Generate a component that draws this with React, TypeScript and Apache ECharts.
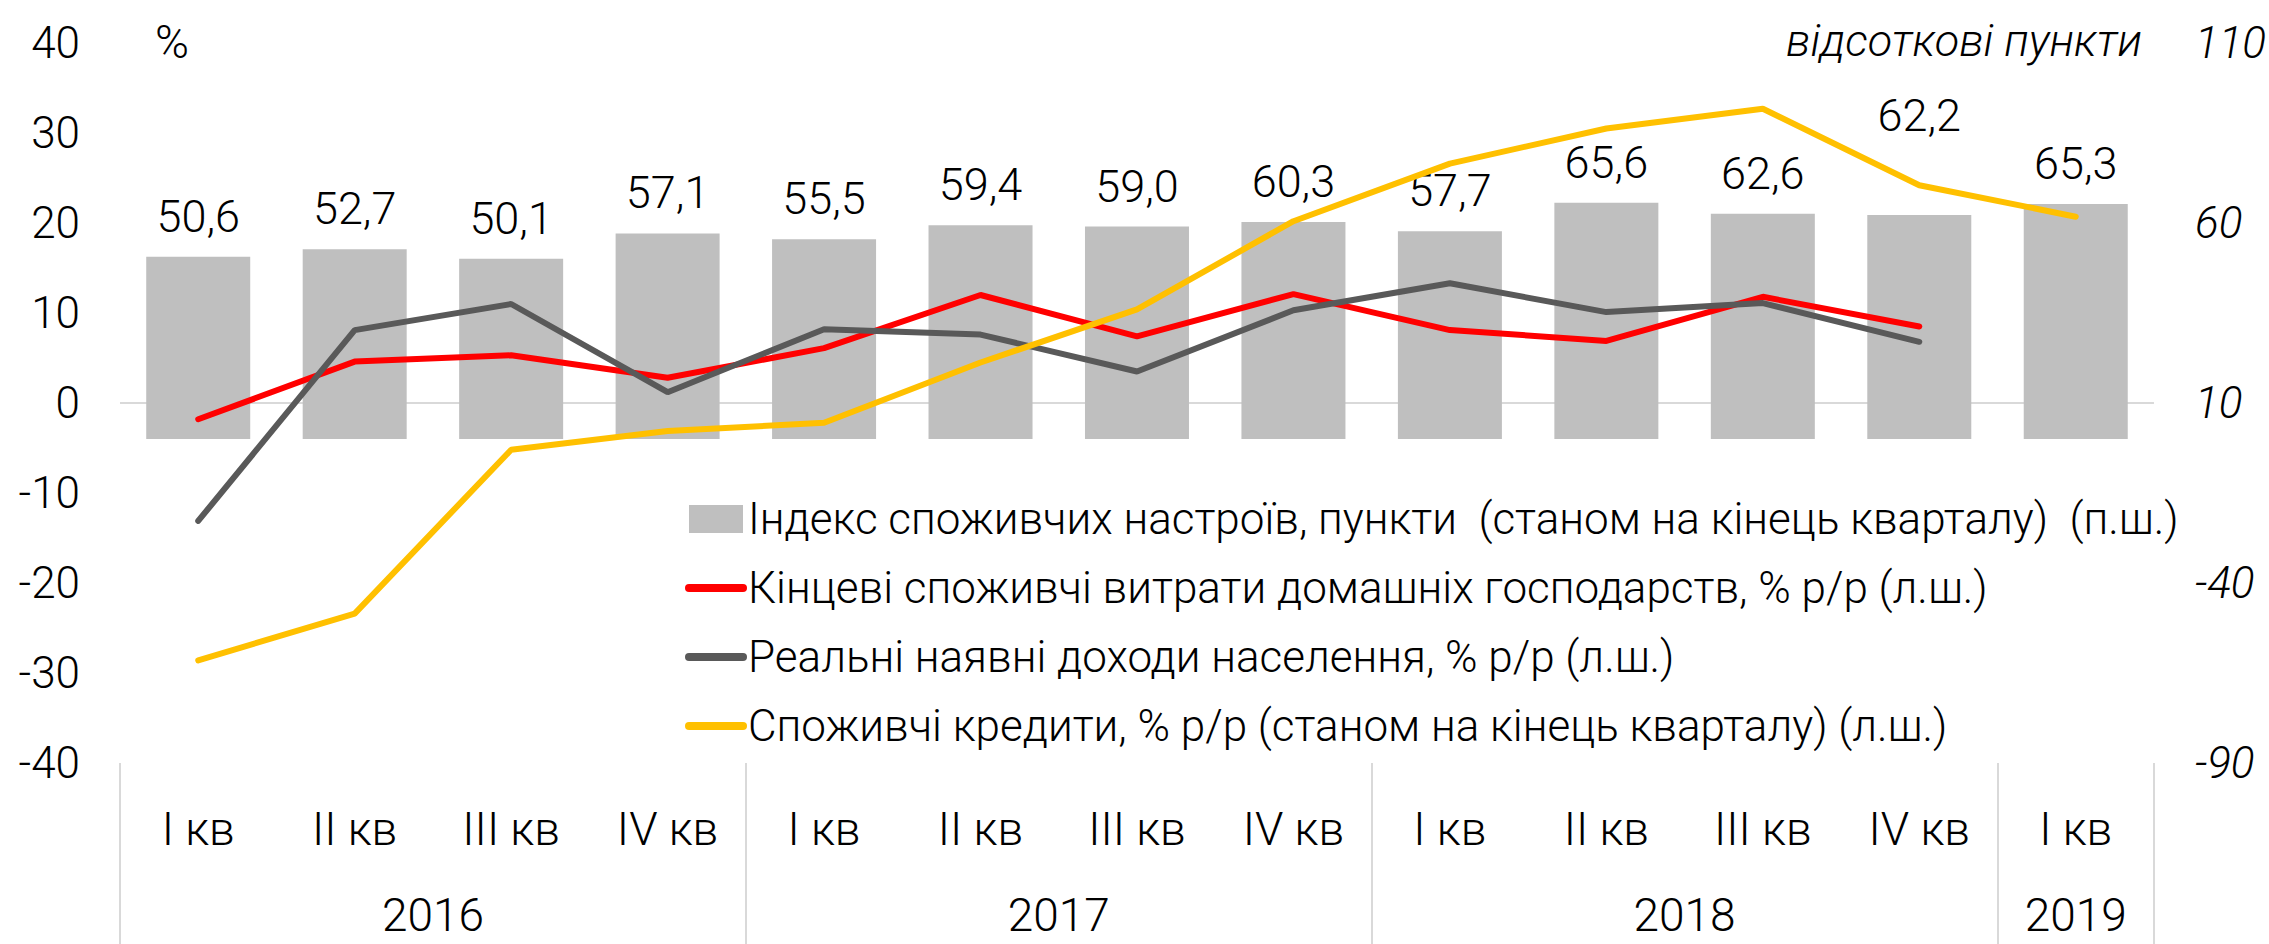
import React, { useEffect, useRef } from 'react';
import * as echarts from 'echarts';

// ---- data ----
const quarterLabels = ['I кв', 'II кв', 'III кв', 'IV кв', 'I кв', 'II кв', 'III кв', 'IV кв', 'I кв', 'II кв', 'III кв', 'IV кв', 'I кв'];
const yearLabels = ['2016', '2017', '2018', '2019'];
const yearQuarterCounts = [4, 4, 4, 1];
const sentimentIndex = [50.6, 52.7, 50.1, 57.1, 55.5, 59.4, 59.0, 60.3, 57.7, 65.6, 62.6, 62.2, 65.3];
const householdSpending = [-1.8, 4.6, 5.3, 2.8, 6.1, 12.0, 7.4, 12.1, 8.1, 6.9, 11.8, 8.5];
const realIncome = [-13.1, 8.1, 11.0, 1.2, 8.2, 7.6, 3.5, 10.3, 13.3, 10.1, 11.1, 6.8];
const consumerLoans = [-28.6, -23.4, -5.2, -3.1, -2.2, 4.5, 10.4, 20.2, 26.6, 30.5, 32.7, 24.2, 20.7];
const leftTickValues = [-40, -30, -20, -10, 0, 10, 20, 30, 40];
const rightTickValues = [-90, -40, 10, 60, 110];
const seriesNames = [
  'Індекс споживчих настроїв, пункти  (станом на кінець кварталу)  (п.ш.)',
  'Кінцеві споживчі витрати домашніх господарств, % р/р (л.ш.)',
  'Реальні наявні доходи населення, % р/р (л.ш.)',
  'Споживчі кредити, % р/р (станом на кінець кварталу) (л.ш.)',
];
const leftUnit = '%';
const rightUnit = 'відсоткові пункти';

const FONT = "Roboto, 'Noto Sans', sans-serif";
const FW = 300;

export default function App() {
  const ref = useRef<HTMLDivElement>(null);
  useEffect(() => {
    document.body.style.margin = '0';
    const chart = echarts.init(ref.current!, null, { renderer: 'svg' });

    const boundaries: number[] = [0];
    const centers: number[] = [];
    let acc = 0;
    yearQuarterCounts.forEach((c) => {
      centers.push(acc + c / 2);
      acc += c;
      boundaries.push(acc);
    });
    const yearAt = (v: number) => {
      const i = centers.findIndex((c) => Math.abs(c - v) < 1e-6);
      return i >= 0 ? yearLabels[i] : '';
    };

    const fmt = (v: number) => v.toFixed(1).replace('.', ',');
    const hideSymbol = { color: 'rgba(0,0,0,0)', borderWidth: 0, opacity: 0 };

    chart.setOption({
      animation: false,
      textStyle: { fontFamily: FONT, fontWeight: FW },
      grid: { left: 120, right: 110, top: 43, bottom: 181 },
      legend: {
        orient: 'vertical',
        left: 680,
        top: 492,
        itemWidth: 54,
        itemHeight: 28,
        itemGap: 25,
        textStyle: { fontFamily: FONT, fontWeight: FW, fontSize: 44, color: '#000' },
        data: [
          { name: seriesNames[0], icon: 'rect' },
          { name: seriesNames[1], itemStyle: hideSymbol, lineStyle: { width: 8, color: '#ff0000' } },
          { name: seriesNames[2], itemStyle: hideSymbol, lineStyle: { width: 8, color: '#595959' } },
          { name: seriesNames[3], itemStyle: hideSymbol, lineStyle: { width: 8, color: '#ffc000' } },
        ],
      },
      xAxis: [
        {
          type: 'category',
          data: quarterLabels,
          position: 'bottom',
          axisLine: { show: false, onZero: false },
          axisTick: { show: false },
          axisLabel: { fontFamily: FONT, fontWeight: FW, fontSize: 46, color: '#000', margin: 43, interval: 0 },
        },
        {
          type: 'value',
          min: 0,
          max: boundaries[boundaries.length - 1],
          position: 'bottom',
          axisLine: { show: false, onZero: false },
          splitLine: { show: false },
          axisTick: {
            show: true,
            customValues: boundaries,
            length: 185,
            lineStyle: { color: '#d9d9d9', width: 2 },
          },
          axisLabel: {
            customValues: centers,
            formatter: (v: number) => yearAt(v),
            fontFamily: FONT,
            fontWeight: FW,
            fontSize: 46,
            color: '#000',
            margin: 129,
          },
        },
      ],
      yAxis: [
        {
          type: 'value',
          min: leftTickValues[0],
          max: leftTickValues[leftTickValues.length - 1],
          interval: 10,
          axisLine: { show: false },
          axisTick: { show: false },
          splitLine: { show: false },
          axisLabel: { fontFamily: FONT, fontWeight: FW, fontSize: 44, color: '#000', margin: 40 },
        },
        {
          type: 'value',
          min: rightTickValues[0],
          max: rightTickValues[rightTickValues.length - 1],
          interval: 50,
          position: 'right',
          axisLine: { show: false },
          axisTick: { show: false },
          splitLine: { show: false },
          axisLabel: {
            customValues: rightTickValues,
            fontFamily: FONT,
            fontWeight: FW,
            fontSize: 44,
            fontStyle: 'italic',
            color: '#000',
            margin: 41,
          },
        },
      ],
      graphic: [
        {
          type: 'text',
          left: 155,
          top: 19,
          style: { text: leftUnit, fontFamily: FONT, fontWeight: FW, fontSize: 46, fill: '#000' },
        },
        {
          type: 'text',
          right: 2269 - 2142,
          top: 18,
          style: { text: rightUnit, fontFamily: FONT, fontWeight: FW, fontSize: 45, fontStyle: 'italic', fill: '#000' },
        },
      ],
      series: [
        {
          name: seriesNames[0],
          type: 'bar',
          yAxisIndex: 1,
          barWidth: 104,
          itemStyle: { color: '#bfbfbf' },
          label: {
            show: true,
            position: 'top',
            distance: 18,
            formatter: (p: any) => fmt(p.value),
            fontFamily: FONT,
            fontWeight: FW,
            fontSize: 45,
            color: '#000',
          },
          data: sentimentIndex.map((v, i) =>
            i === 11 ? { value: v, label: { distance: 77 } } : v
          ),
          z: 2,
        },
        {
          name: seriesNames[1],
          type: 'line',
          yAxisIndex: 0,
          symbol: 'none',
          lineStyle: { color: '#ff0000', width: 6, cap: 'round' },
          itemStyle: { color: '#ff0000' },
          data: householdSpending,
          z: 3,
          markLine: {
            silent: true,
            symbol: ['none', 'none'],
            z: 1,
            label: { show: false },
            lineStyle: { color: '#d9d9d9', type: 'solid', width: 2 },
            data: [{ yAxis: 0 }],
          },
        },
        {
          name: seriesNames[2],
          type: 'line',
          yAxisIndex: 0,
          symbol: 'none',
          lineStyle: { color: '#595959', width: 6, cap: 'round' },
          itemStyle: { color: '#595959' },
          data: realIncome,
          z: 4,
        },
        {
          name: seriesNames[3],
          type: 'line',
          yAxisIndex: 0,
          symbol: 'none',
          lineStyle: { color: '#ffc000', width: 6, cap: 'round' },
          itemStyle: { color: '#ffc000' },
          data: consumerLoans,
          z: 5,
        },
      ],
    });
    return () => chart.dispose();
  }, []);
  return <div ref={ref} style={{ width: 2269, height: 944 }} />;
}
